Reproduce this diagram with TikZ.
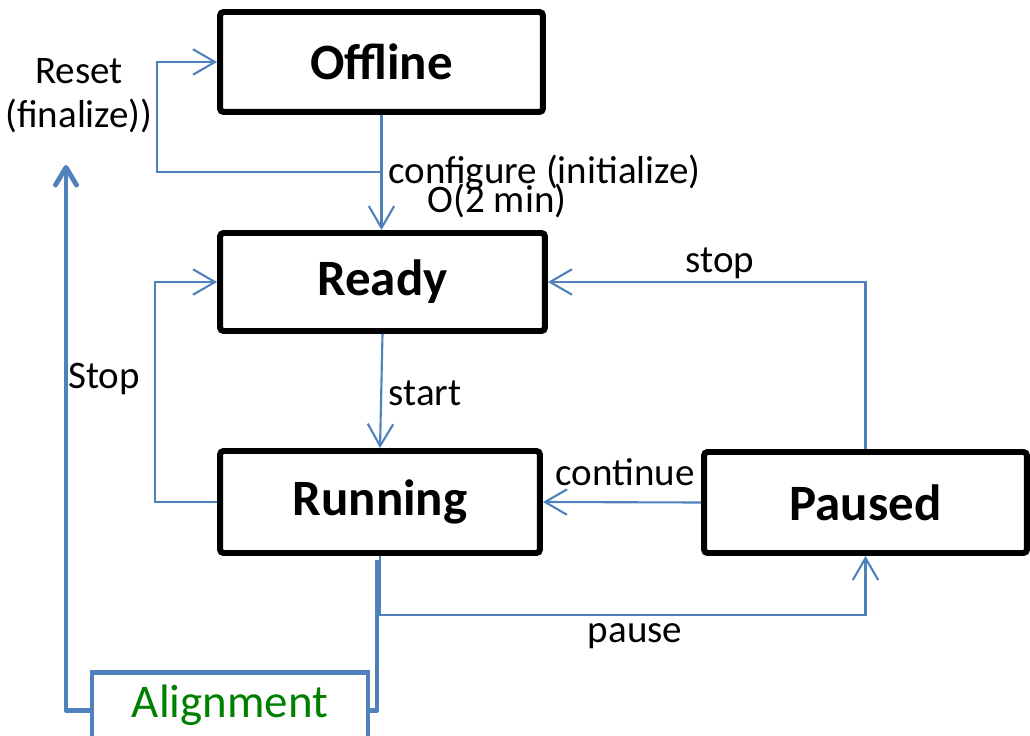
\documentclass[tikz,border=0pt]{standalone}
\usepackage{fontspec}
\setmainfont{Carlito}
\usetikzlibrary{arrows.meta,calc}
\definecolor{lineblue}{RGB}{79,129,189}
\definecolor{aligngreen}{RGB}{0,128,0}
\tikzset{
  state/.style={draw=black, line width=3.4pt, rounded corners=2pt, inner sep=0pt,
    minimum width=6.46cm, minimum height=2cm, font=\fontsize{29}{34}\selectfont\bfseries},
  conn/.style={draw=lineblue, line width=1.2pt},
  arr/.style={conn, -{Straight Barb[length=12.5pt,width=14.5pt]}},
  thickconn/.style={draw=lineblue, line width=2.8pt, line join=round},
  thickarr/.style={thickconn, -{Straight Barb[length=10pt,width=12pt,line join=round,line cap=round]}},
  lab/.style={font=\fontsize{22.2}{25}\selectfont, inner sep=0pt},
  alignbox/.style={draw=lineblue, line width=2.8pt, fill=white, inner sep=0pt,
    minimum width=5.52cm, minimum height=1.6cm, text=aligngreen,
    font=\fontsize{26.7}{30}\selectfont}
}
\begin{document}
\begin{tikzpicture}[x=0.02cm,y=-0.02cm]
\useasboundingbox (0,0) rectangle (1030,736);
% states
\node[state] (Offline) at (381.5,62) {Offline};
\node[state, minimum width=6.5cm, minimum height=1.96cm] (Ready) at (382.5,282) {Ready};
\node[state, minimum width=6.4cm, minimum height=2.04cm] (Running) at (380,502) {Running};
\node[state, minimum width=6.46cm, minimum height=2.02cm] (Paused) at (865.5,502.5) {Paused};
% alignment
\node[alignbox, anchor=north] (Align) at (230,670) {};
\node[text=aligngreen, font=\fontsize{26.7}{30}\selectfont, inner sep=0pt] (AlignText) at (230,705) {Alignment};
% coordinates
\coordinate (resetStart) at (383,172);
\coordinate (resetTop) at (66,165);
\coordinate (runLineTop) at (377,560);
% connectors
\draw[arr] (Offline.south) -- (Offline.south |- Ready.north);
\draw[arr] (resetStart) -- (157,172) |- (Offline.west);
\draw[arr] (Ready.south) -- (Running.north);
\draw[arr] (Running.west) -- (155,502) |- (Ready.west);
\draw[arr] (Paused.north) |- (Ready.east);
\draw[arr] (Paused.west) -- (Running.east);
\draw[arr] (Running.south) -- (380,615) -| (Paused.south);
% thick alignment lines
\draw[thickarr] ($(Align.west)+(0,-2)$) -| (resetTop);
\draw[thickconn] ($(Align.east)+(0,-2)$) -| (runLineTop);
% labels
\node[lab, anchor=west] (lconf) at (388,173) {configure (initialize)};
\node[lab] (lmin) at (497,201) {O(2 min)};
\node[lab, align=center] (lreset) at (79,96) {Reset\\(finalize))};
\node[lab] (lstart) at (425,393) {start};
\node[lab] (lStop) at (104,379) {Stop};
\node[lab] (lstop) at (720,263) {stop};
\node[lab] (lcont) at (625,472) {continue};
\node[lab] (lpause) at (635,636) {pause};
\end{tikzpicture}
\end{document}
